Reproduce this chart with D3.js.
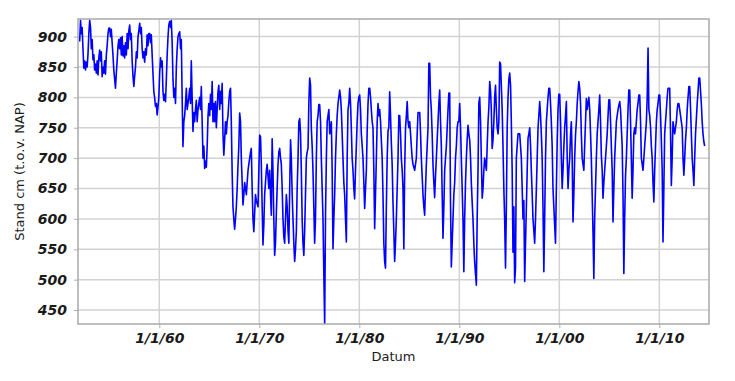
<!DOCTYPE html>
<html>
<head>
<meta charset="utf-8">
<script src="https://cdn.jsdelivr.net/npm/d3@7"></script>
<style>
  body { margin: 0; background: #fff; }
  .axis text { font-family: "DejaVu Sans", sans-serif; font-weight: bold; font-style: italic; font-size: 14px; fill: #1a1a1a; }
  .axis line { stroke: #b0b0b0; }
  .axis path { display: none; }
  .grid line { stroke: #d2d2d2; stroke-width: 1.5; }
  .title { font-family: "DejaVu Sans", sans-serif; font-size: 13px; fill: #1a1a1a; }
</style>
</head>
<body>
<div id="chart"></div>
<script>
// one row of monthly readings (Jan..Dec) per year
const years = [1952, 1953, 1954, 1955, 1956, 1957, 1958, 1959, 1960, 1961,
               1962, 1963, 1964, 1965, 1966, 1967, 1968, 1969, 1970, 1971,
               1972, 1973, 1974, 1975, 1976, 1977, 1978, 1979, 1980, 1981,
               1982, 1983, 1984, 1985, 1986, 1987, 1988, 1989, 1990, 1991,
               1992, 1993, 1994, 1995, 1996, 1997, 1998, 1999, 2000, 2001,
               2002, 2003, 2004, 2005, 2006, 2007, 2008, 2009, 2010, 2011,
               2012, 2013, 2014];

const levels = [
  [892, 927, 905, 915, 880, 848, 860, 845, 858, 850, 872, 905],
  [927, 915, 880, 895, 862, 870, 845, 855, 840, 860, 837, 865],
  [878, 860, 875, 834, 850, 840, 860, 838, 870, 885, 905, 914],
  [914, 900, 912, 890, 870, 845, 830, 815, 840, 860, 885, 895],
  [880, 898, 870, 900, 868, 885, 865, 890, 870, 905, 880, 910],
  [919, 895, 905, 860, 835, 818, 835, 850, 875, 865, 900, 910],
  [922, 905, 915, 880, 865, 875, 858, 880, 870, 903, 885, 905],
  [905, 890, 903, 870, 840, 810, 800, 785, 790, 771, 785, 800],
  [840, 865, 850, 860, 810, 795, 805, 793, 830, 870, 900, 920],
  [925, 915, 927, 890, 830, 800, 815, 790, 850, 880, 900, 905],
  [908, 880, 895, 800, 719, 760, 770, 790, 815, 780, 790, 800],
  [815, 790, 860, 800, 744, 775, 760, 780, 795, 760, 780, 790],
  [800, 780, 818, 760, 700, 720, 683, 695, 685, 720, 770, 790],
  [770, 805, 780, 826, 760, 790, 760, 793, 750, 780, 810, 820],
  [780, 810, 790, 823, 740, 705, 730, 760, 740, 760, 770, 793],
  [810, 815, 760, 677, 620, 600, 583, 600, 620, 650, 689, 720],
  [774, 760, 700, 660, 623, 640, 660, 650, 640, 660, 680, 690],
  [700, 710, 716, 650, 600, 579, 610, 640, 630, 625, 620, 680],
  [738, 735, 690, 620, 557, 590, 640, 660, 680, 690, 670, 650],
  [680, 640, 606, 732, 680, 600, 540, 560, 610, 650, 690, 710],
  [716, 700, 690, 650, 600, 570, 560, 600, 640, 620, 580, 560],
  [650, 730, 700, 640, 600, 560, 530, 550, 580, 650, 700, 760],
  [765, 740, 680, 600, 560, 540, 580, 640, 700, 710, 716, 790],
  [832, 820, 750, 720, 680, 620, 560, 600, 700, 760, 770, 788],
  [788, 760, 700, 650, 600, 508, 427, 606, 700, 760, 770, 780],
  [740, 750, 760, 680, 551, 600, 640, 700, 740, 770, 790, 800],
  [812, 800, 780, 740, 700, 660, 640, 600, 562, 700, 780, 790],
  [815, 790, 750, 700, 680, 650, 633, 680, 720, 760, 790, 800],
  [804, 780, 740, 720, 700, 660, 617, 650, 680, 745, 790, 815],
  [815, 800, 780, 760, 750, 680, 584, 640, 700, 760, 790, 770],
  [780, 760, 730, 700, 640, 560, 530, 519, 620, 700, 745, 750],
  [809, 770, 727, 690, 628, 580, 530, 560, 600, 650, 700, 770],
  [770, 740, 700, 680, 650, 551, 680, 750, 770, 793, 760, 750],
  [760, 740, 720, 700, 690, 685, 680, 690, 700, 740, 775, 775],
  [775, 740, 700, 670, 640, 620, 606, 650, 690, 720, 750, 856],
  [856, 800, 780, 740, 690, 660, 635, 670, 700, 730, 760, 790],
  [812, 760, 720, 640, 568, 620, 680, 700, 720, 750, 780, 807],
  [807, 620, 521, 560, 600, 640, 660, 700, 720, 750, 760, 760],
  [790, 750, 700, 650, 600, 513, 600, 660, 700, 730, 754, 740],
  [730, 700, 660, 628, 600, 560, 530, 510, 491, 600, 680, 790],
  [800, 760, 700, 634, 650, 680, 700, 690, 680, 720, 760, 783],
  [826, 810, 780, 716, 730, 760, 800, 820, 780, 750, 740, 760],
  [858, 855, 820, 780, 720, 650, 600, 519, 620, 750, 800, 830],
  [840, 820, 760, 680, 545, 620, 495, 520, 700, 720, 740, 740],
  [740, 720, 700, 650, 600, 630, 497, 560, 620, 680, 733, 740],
  [750, 720, 680, 640, 600, 580, 560, 600, 650, 700, 750, 770],
  [793, 770, 740, 700, 620, 513, 600, 700, 760, 780, 800, 815],
  [815, 790, 760, 720, 650, 620, 590, 560, 650, 727, 780, 805],
  [805, 760, 700, 650, 680, 720, 750, 770, 793, 700, 650, 680],
  [700, 740, 760, 700, 595, 640, 700, 738, 760, 790, 810, 826],
  [815, 790, 740, 700, 690, 680, 720, 760, 798, 780, 790, 800],
  [780, 740, 700, 640, 580, 502, 600, 650, 700, 740, 760, 780],
  [804, 760, 705, 680, 634, 660, 680, 700, 720, 740, 770, 796],
  [796, 760, 720, 680, 595, 650, 700, 730, 760, 770, 780, 787],
  [793, 780, 750, 720, 640, 510, 600, 670, 700, 740, 780, 812],
  [812, 760, 700, 634, 680, 740, 750, 740, 760, 780, 790, 804],
  [804, 760, 700, 690, 680, 700, 720, 740, 760, 800, 881, 780],
  [770, 750, 720, 700, 660, 628, 680, 720, 760, 780, 790, 804],
  [804, 770, 730, 680, 562, 650, 740, 760, 780, 800, 815, 815],
  [815, 740, 655, 700, 760, 750, 740, 750, 760, 780, 790, 790],
  [780, 770, 760, 750, 700, 672, 700, 730, 750, 780, 800, 818],
  [818, 780, 740, 700, 680, 655, 700, 740, 765, 790, 810, 832],
  [832, 810, 790, 760, 740, 727, 720]
];

const levelTicks = [450, 500, 550, 600, 650, 700, 750, 800, 850, 900];
const dateTicks = ['1960-01-01', '1970-01-01', '1980-01-01', '1990-01-01', '2000-01-01', '2010-01-01'];

class TimeChart {
  constructor(_config, _data) {
    this.config = {
      parentElement: _config.parentElement,
      containerWidth: _config.containerWidth || 735,
      containerHeight: _config.containerHeight || 381,
      margin: _config.margin || {top: 19, right: 26, bottom: 57, left: 78},
    }
    this.data = _data;
    this.initVis();
  }

  initVis() {
    let vis = this;

    vis.width = vis.config.containerWidth - vis.config.margin.left - vis.config.margin.right;
    vis.height = vis.config.containerHeight - vis.config.margin.top - vis.config.margin.bottom;

    vis.xScale = d3.scaleTime()
      .domain([new Date(1951, 10, 15), new Date(2014, 11, 20)])
      .range([0, vis.width]);

    vis.yScale = d3.scaleLinear()
      .domain([427, 929])
      .range([vis.height, 0]);

    vis.xTicks = dateTicks.map(d => d3.isoParse(d + 'T00:00:00'));

    vis.svg = d3.select(vis.config.parentElement).append('svg')
      .attr('width', vis.config.containerWidth)
      .attr('height', vis.config.containerHeight);

    vis.chart = vis.svg.append('g')
      .attr('transform', `translate(${vis.config.margin.left},${vis.config.margin.top})`);

    vis.chart.append('clipPath').attr('id', 'plot-clip')
      .append('rect').attr('width', vis.width).attr('height', vis.height);

    // gridlines
    vis.chart.append('g').attr('class', 'grid')
      .selectAll('line').data(levelTicks).join('line')
      .attr('x1', 0).attr('x2', vis.width)
      .attr('y1', d => vis.yScale(d)).attr('y2', d => vis.yScale(d));

    vis.chart.append('g').attr('class', 'grid')
      .selectAll('line').data(vis.xTicks).join('line')
      .attr('y1', 0).attr('y2', vis.height)
      .attr('x1', d => vis.xScale(d)).attr('x2', d => vis.xScale(d));

    vis.xAxis = d3.axisBottom(vis.xScale)
      .tickValues(vis.xTicks)
      .tickFormat(d3.timeFormat('%-m/%-d/%y'))
      .tickSize(4).tickPadding(5);

    vis.yAxis = d3.axisLeft(vis.yScale)
      .tickValues(levelTicks)
      .tickSize(4).tickPadding(7);

    vis.xAxisG = vis.chart.append('g').attr('class', 'axis')
      .attr('transform', `translate(0,${vis.height})`);
    vis.yAxisG = vis.chart.append('g').attr('class', 'axis');

    vis.linePath = vis.chart.append('path')
      .attr('clip-path', 'url(#plot-clip)')
      .attr('fill', 'none')
      .attr('stroke', '#0000ff')
      .attr('stroke-width', 1.6)
      .attr('stroke-linejoin', 'round');

    // plot frame
    vis.chart.append('rect')
      .attr('width', vis.width).attr('height', vis.height)
      .attr('fill', 'none').attr('stroke', '#a9a9a9').attr('stroke-width', 1.5);

    vis.svg.append('text').attr('class', 'title')
      .attr('transform', `translate(24,${vis.config.margin.top + vis.height / 2}) rotate(-90)`)
      .attr('text-anchor', 'middle')
      .text('Stand cm (t.o.v. NAP)');

    vis.svg.append('text').attr('class', 'title')
      .attr('x', vis.config.margin.left + vis.width / 2)
      .attr('y', 361)
      .attr('text-anchor', 'middle')
      .text('Datum');
  }

  updateVis() {
    let vis = this;
    vis.xValue = d => d.date;
    vis.yValue = d => d.value;
    vis.renderVis();
  }

  renderVis() {
    let vis = this;

    const line = d3.line()
      .defined(d => d.value != null)
      .x(d => vis.xScale(vis.xValue(d)))
      .y(d => vis.yScale(vis.yValue(d)));

    vis.linePath.datum(vis.data).attr('d', line);

    vis.xAxisG.call(vis.xAxis);
    vis.yAxisG.call(vis.yAxis);
  }
}

const readings = years.flatMap((yr, i) =>
  levels[i].map((v, m) => ({date: new Date(yr, m, 15), value: v})));

const chart = new TimeChart({parentElement: '#chart'}, readings);
chart.updateVis();
</script>
</body>
</html>
